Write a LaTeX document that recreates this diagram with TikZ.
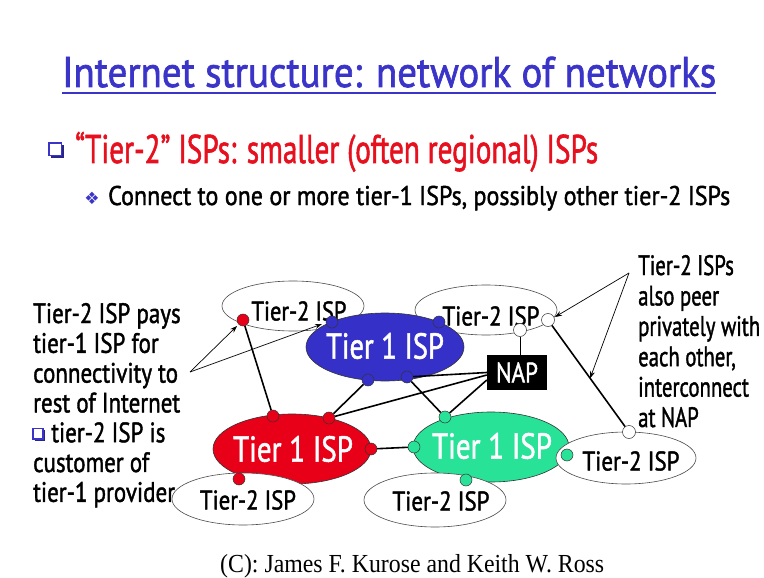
\documentclass[tikz,border=0pt]{standalone}
\usepackage{fontspec}
\usepackage{graphicx}
\setmainfont{PT Sans}[FakeBold=1.6]
\newfontfamily\serifft{Liberation Serif}
\newfontfamily\symft{DejaVu Sans}
\usetikzlibrary{shapes.geometric,arrows.meta,calc}
\definecolor{titleblue}{RGB}{58,52,200}
\definecolor{tierblue}{RGB}{52,48,200}
\definecolor{tierred}{RGB}{232,0,24}
\definecolor{tiergreen}{RGB}{40,226,152}
\definecolor{textred}{RGB}{230,16,30}
% stretch a line of text horizontally to a given width, keeping its height
\newcommand\hfit[2]{\resizebox{#1}{\height}{#2}}
\newsavebox\measbox
\tikzset{
  tierone/.style={ellipse, draw=black!80, line width=0.6pt, inner sep=0pt,
    minimum width=158pt, minimum height=68pt},
  tiertwo/.style={ellipse, draw=black!70, fill=white, line width=0.6pt, inner sep=0pt,
    minimum width=142pt, minimum height=50pt},
  port/.style={circle, draw=black!80, line width=0.5pt, inner sep=0pt, minimum size=12pt},
  link/.style={line width=1.6pt, black},
  note/.style={line width=0.7pt, black, -{Stealth[length=7pt,width=5pt]}},
  onelab/.style={inner sep=0pt, text=white, font=\fontsize{36}{36}\selectfont},
  twolab/.style={inner sep=0pt, font=\fontsize{27}{27}\selectfont},
  sqbullet/.style={titleblue, line width=1.4pt},
  sqshadow/.style={titleblue!70!black, line width=1.8pt}
}
\begin{document}%
% horizontal squeeze factors for the two side notes
\sbox\measbox{\fontsize{28}{29.8}\selectfont rest of Internet}%
\pgfmathsetmacro\lsc{147/\the\wd\measbox}%
\sbox\measbox{\fontsize{28}{30.4}\selectfont privately with}%
\pgfmathsetmacro\rsc{122/\the\wd\measbox}%
\begin{tikzpicture}[x=1pt,y=-1pt]
\useasboundingbox (0,0) rectangle (764,578);
\fill[white] (0,0) rectangle (764,578);

% ---- heading and bullets
\node[anchor=base west, inner sep=0pt, text=titleblue, font=\fontsize{43}{43}\selectfont]
  (title) at (62,87) {\hfit{654pt}{Internet structure: network of networks}};
\draw[titleblue, line width=1.6pt] ([yshift=-6pt]title.base west) -- ([yshift=-6pt]title.base east);

\draw[sqbullet] (49,143) rectangle (61.5,155.5);
\draw[sqshadow] (50.5,157) -- (63,157) -- (63,144.5);
\node[anchor=base west, inner sep=0pt, text=textred, font=\fontsize{40}{40}\selectfont]
  (head) at (75,163) {\hfit{523pt}{“Tier-2” ISPs: smaller (often regional) ISPs}};

\node[inner sep=0pt, text=titleblue, font=\symft\fontsize{17}{17}\selectfont] (dia) at (92,198) {❖};
\node[anchor=base west, inner sep=0pt, font=\fontsize{27}{27}\selectfont]
  (sub) at (108,205) {\hfit{622pt}{Connect to one or more tier-1 ISPs, possibly other tier-2 ISPs}};

% ---- ISP clouds
\node[tiertwo] (t2tl) at (293,306) {};
\node[tiertwo] (t2tr) at (486,310) {};
\node[tierone, fill=tierblue] (t1b) at (385,347) {};
\node[tierone, fill=tierred, minimum height=70pt] (t1r) at (292,449) {};
\node[tierone, fill=tiergreen, minimum width=156pt, minimum height=70pt] (t1g) at (491,447) {};
\node[tiertwo, minimum height=52pt] (t2bl) at (243,499) {};
\node[tiertwo, minimum height=54pt] (t2bm) at (435,500) {};
\node[tiertwo, minimum width=140pt, minimum height=52pt] (t2r) at (626,458) {};

\node[onelab] (t1bl) at (385,346) {\hfit{118pt}{Tier 1 ISP}};
\node[onelab] (t1rl) at (293,449) {\hfit{120pt}{Tier 1 ISP}};
\node[onelab] (t1gl) at (492,446) {\hfit{120pt}{Tier 1 ISP}};
\node[twolab] (t2tll) at (299,311) {\hfit{95pt}{Tier-2 ISP}};
\node[twolab] (t2trl) at (491,316) {\hfit{97pt}{Tier-2 ISP}};
\node[twolab] (t2bll) at (248,500) {\hfit{96pt}{Tier-2 ISP}};
\node[twolab] (t2bml) at (441,501) {\hfit{97pt}{Tier-2 ISP}};
\node[twolab] (t2rl) at (631,461) {\hfit{97pt}{Tier-2 ISP}};

\node[fill=black, text=white, inner sep=0pt, minimum width=60pt, minimum height=35pt,
  font=\fontsize{28}{28}\selectfont] (nap) at (517,372.5) {\hfit{42pt}{NAP}};

% ---- router ports
\node[port, fill=tierred] (ra) at (243,320) {};
\node[port, fill=tierred] (rb) at (273,416) {};
\node[port, fill=tierred] (rc) at (329,418) {};
\node[port, fill=tierred] (rd) at (371,449) {};
\node[port, fill=tierred] (re) at (239,479) {};
\node[port, fill=tierblue] (ba) at (332,322) {};
\node[port, fill=tierblue] (bb) at (439,322) {};
\node[port, fill=tierblue] (bc) at (368,380) {};
\node[port, fill=tierblue] (bd) at (407,377) {};
\node[port, fill=tiergreen] (ga) at (445,417) {};
\node[port, fill=tiergreen] (gb) at (414,447) {};
\node[port, fill=tiergreen] (gc) at (466,480) {};
\node[port, fill=tiergreen] (gd) at (567,455) {};
\node[port, fill=white, minimum size=13pt] (wa) at (520,330) {};
\node[port, fill=white, minimum size=13pt] (wb) at (548,320) {};
\node[port, fill=white, minimum size=13pt] (wc) at (629,432) {};

% ---- links
\draw[link] (ra) -- (rb);
\draw[link] (bc) -- (rc);
\draw[link] (bd) -- (ga);
\draw[link] (bd) -- (nap.west);
\draw[link] (rc) -- ([yshift=-2.5pt]nap.west);
\draw[link] (ga) -- ([yshift=-7.5pt]nap.west);
\draw[line width=0.6pt] (wa) -- (wa |- nap.north);
\draw[link] (rd) -- (gb);
\draw[link] (wb) -- (wc);

% ---- side notes
\node[anchor=base west, inner sep=0pt, font=\fontsize{28}{29.8}\selectfont] (lnote) at (33,323)
  {\scalebox{\lsc}[1]{\begin{tabular}[t]{@{}l@{}}Tier-2 ISP pays\\ tier-1 ISP for\\ connectivity to\\
   rest of Internet\\ \hspace{22pt}tier-2 ISP is\\ customer of\\ tier-1 provider\end{tabular}}};
\draw[sqbullet] (33,428.5) rectangle (43,439);
\draw[sqshadow] (34.5,440.5) -- (44.5,440.5) -- (44.5,430);

\node[anchor=base west, inner sep=0pt, font=\fontsize{28}{30.4}\selectfont] (rnote) at (638,275)
  {\scalebox{\rsc}[1]{\begin{tabular}[t]{@{}l@{}}Tier-2 ISPs\\ also peer\\ privately with\\
   each other,\\ interconnect\\ at NAP\end{tabular}}};

\coordinate (lsrc) at (190,372);
\coordinate (lend1) at (237,326);
\coordinate (lend2) at (322,324);
\draw[note] (lsrc) -- (lend1);
\draw[note] (lsrc) -- (lend2);
\coordinate (rsrc) at (629,273);
\coordinate (rend1) at (555,317);
\coordinate (rend2) at ($(wb)!0.52!(wc)$);
\draw[note] (rsrc) -- (rend1);
\draw[note] (rsrc) -- (rend2);

% ---- credit line
\node[anchor=base west, inner sep=0pt, font=\serifft\fontsize{26}{26}\selectfont]
  (credit) at (220,572) {\hfit{384pt}{(C): James F. Kurose and Keith W. Ross}};
\end{tikzpicture}%
\end{document}
